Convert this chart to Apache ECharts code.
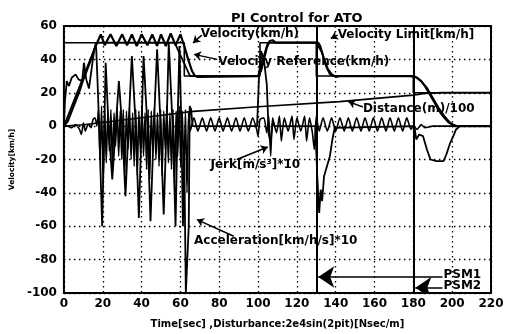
<!DOCTYPE html>
<html>
<head>
<meta charset="utf-8">
<script src="https://cdn.jsdelivr.net/npm/echarts@6/dist/echarts.min.js"></script>
<style>html,body{margin:0;padding:0;background:#fff}#c{width:514px;height:334px}</style>
</head>
<body>
<div id="c"></div>
<script>
// ---- tick values ----
var xTicks = {min: 0, max: 220, step: 20};
var yTicks = {min: -100, max: 60, step: 20};

// ---- series data [time s, value] ----
var velocityLimit = [[0,50],[62,50],[62,30],[101,30],[101,50],[130,50],[130,30],[180,30],[180,20],[220,20]];
var velocityRef = [[0,0],[17,50],[57,50],[65,30],[100,30],[105,50],[130,50],[131,49.5],[133,44],[135,36],[137,31],[139,30],[178,30],[181,29.5],[184,27],[187,23],[190,17],[193,11],[196,6],[199,2],[201,0.5],[203,0],[220,0]];
var velocity = [[0,0],[2,3],[4,9],[6,15],[8,21],[10,28],[12,34],[14,40],[16,47],[17.5,51],[19,55],[21,48.5],[24,55],[27,48],[30,55],[32.5,48.5],[35,55],[37.5,48],[40,55],[43,48.5],[45.5,55],[48,48],[50,55],[52.5,48],[55,55.5],[57.5,48.5],[60,55],[62,48],[64,40],[66,33],[67.5,30],[69,29.5],[100,30],[101.5,33],[103,40],[104.5,47],[106,51],[107.5,51.5],[109,50],[131,50],[132,48],[134,40],[136,34],[138,31],[140,29.5],[142,30],[180,30],[182,29],[184,27],[186,24],[188,20],[190,16],[192,12],[194,8],[196,5],[198,2.5],[200,1],[202,0],[220,0]];
var distance = [[0,0],[10,0.8],[20,2.2],[40,5],[60,7.9],[65,8.7],[100,11.6],[142,14.7],[180,18.6],[186,19.6],[195,20.1],[220,20.1]];
var acceleration = [[0,0],[0.5,15],[1.5,27],[2.6,24],[4,29],[6,31],[7.5,28],[9.4,27],[10.3,38],[11.5,28],[12.9,22.5],[14,32],[15.5,45],[16.5,50],[17.2,30],[18,5],[19.7,-60],[21.5,38],[23,0],[24.9,-32],[27,5],[28.3,27],[30,0],[31.7,-42],[33.5,5],[35,42],[37,0],[38.6,-55],[40,0],[41,42],[43,0],[44.6,-57],[46.5,5],[48,46],[49.8,0],[51.4,-53],[53,5],[54,50],[56,0],[57.5,-60],[58.5,0],[59.5,48],[60.5,0],[61.3,-60],[62,-20],[62.8,-100],[63.5,-100],[64.3,-60],[64.8,12],[65.5,10],[66.3,0],[99.5,0],[100.5,30],[101.5,45],[103,40],[104.5,25],[105.5,-5],[106.5,-10],[107.5,2],[108.5,0],[129.5,0],[130.5,-30],[131.5,-52],[132.3,-38],[133,-45],[134,-30],[135.5,-24],[137,-18],[138.3,-8],[139.5,-1],[140.5,0],[180.5,0],[181.5,-8],[183,-5],[185,-6],[187,-14],[188.8,-20],[192,-21],[195.5,-21],[197,-17],[199,-10],[200.6,-6],[202,-2],[204,0],[220,0]];
var jerk = [[0,0],[2,0],[4,-1],[6,1],[8,-2],[9,-5],[10,2],[11,-3],[12,0],[13,1],[14,-1],[15,4],[16,5],[17,0],[17.8,10],[18.6,-20],[19.4,12],[20.2,-35],[21,10],[21.8,-22],[22.6,8],[23.4,-15],[24.2,10],[25,-25],[25.8,8],[26.6,-12],[27.4,11],[28.2,-18],[29,9],[29.8,-20],[30.6,10],[31.4,-28],[32.2,9],[33,-14],[33.8,11],[34.6,-20],[35.4,8],[36.2,-24],[37,10],[37.8,-30],[38.6,9],[39.4,-16],[40.2,12],[41,-18],[41.8,8],[42.6,-26],[43.4,10],[44.2,-32],[45,9],[45.8,-15],[46.6,11],[47.4,-20],[48.2,8],[49,-24],[49.8,10],[50.6,-30],[51.4,9],[52.2,-14],[53,12],[53.8,-22],[54.6,8],[55.4,-26],[56.2,10],[57,-34],[57.8,9],[58.6,-18],[59.4,12],[60.2,-24],[61,9],[61.8,-30],[62.6,10],[63.4,-40],[64.2,8],[65,-3],[67,5],[69,-3],[71.3,5],[73.5,-3],[75.6,5],[77.8,-3],[80,5],[82,-3],[84.2,5],[86.4,-3],[88.6,5],[90.7,-3],[92.9,5],[95,-3],[97.2,5],[99.3,-2],[100,-6],[101,4],[103,5],[104.5,-4],[105.5,6],[106.5,-18],[107.5,5],[109.5,-4],[111,6],[112,-9],[113.5,5],[115.5,-3],[117.5,6],[118.5,-8],[120,5],[122,-3],[124,6],[125,-9],[126.5,5],[128,-4],[129,-14],[130,6],[131.5,-3],[133.5,5],[135.7,-3],[137.9,5],[140,-3],[142.2,5],[144.4,-3],[146.5,5],[148.6,-3],[150.8,5],[153,-3],[155.1,5],[157.3,-3],[159.4,5],[161.5,-3],[163.7,5],[165.9,-3],[168,5],[170.2,-3],[172.3,5],[174.5,-3],[176.6,5],[178.8,-2],[180,0],[182,-2],[184,1],[186,-1],[190,0],[220,0]];
var psmTimes = [130, 180];

// ---- annotations ----
var labelTexts = ['Velocity(km/h)','Velocity Limit[km/h]','Velocity Reference(km/h)','Distance(m)/100','Jerk[m/s\u00b3]*10','Acceleration[km/h/s]*10','PSM1','PSM2'];
var labelPos = [[70.5,55.5],[141,54.5],[79.5,38.5],[154,10.5],[75.5,-23],[67,-69],[195.5,-89],[195.5,-96]];
var arrowFrom = [[71,54.5],[141,54.5],[79,40],[154,11.5],[89,-20],[87.5,-66]];
var arrowTo = [[66.5,49.8],[137.5,52.5],[67,43],[146.5,14.7],[105,-12.5],[68.5,-56]];
var psmArrowFrom = [[195,-90.4],[195,-96.8]];
var psmArrowTo = [[131,-90.4],[181,-96.8]];

var FONT = 'DejaVu Sans';
function lineSeries(d, w, sm) {
  return {type:'line', data:d, showSymbol:false, symbol:'none', smooth: sm || false,
    lineStyle:{color:'#000', width:w}, z:3, clip:true};
}
var series = [
  lineSeries(velocityLimit, 1.6),
  lineSeries(velocityRef, 1.8),
  lineSeries(velocity, 2.2),
  lineSeries(distance, 1.6),
  lineSeries(acceleration, 1.8),
  lineSeries(jerk, 1.6, 0.2),
  {type:'lines', coordinateSystem:'cartesian2d', z:4,
    data: psmTimes.map(function(t){return {coords:[[t,yTicks.max],[t,yTicks.min]]};}),
    lineStyle:{color:'#000', width:2, opacity:1}, symbol:'none'},
  {type:'lines', coordinateSystem:'cartesian2d', z:5,
    data: arrowFrom.map(function(p,i){return {coords:[p, arrowTo[i]]};}),
    lineStyle:{color:'#000', width:1.5, opacity:1}, symbol:['none','arrow'], symbolSize:7},
  {type:'lines', coordinateSystem:'cartesian2d', z:5,
    data: psmArrowFrom.map(function(p,i){return {coords:[p, psmArrowTo[i]]};}),
    lineStyle:{color:'#000', width:1.5, opacity:1}, symbol:['none','arrow'], symbolSize:[7,16]},
  {type:'scatter', z:6, symbol:'circle', symbolSize:0, itemStyle:{color:'#000', opacity:1},
    data: labelPos.map(function(p,i){return {value:p, name:labelTexts[i]};}),
    label:{show:true, position:'right', distance:0, formatter:'{b}', color:'#000', opacity:1,
      fontFamily:FONT, fontWeight:'bold', fontSize:12}}
];

var chart = echarts.init(document.getElementById('c'), null, {renderer:'canvas'});
chart.setOption({
  animation:false,
  backgroundColor:'#fff',
  title:{text:'PI Control for ATO', left:226, top:7,
    textStyle:{fontFamily:FONT, fontWeight:'bold', fontSize:13, color:'#000'}},
  grid:{left:63, right:23, top:26, bottom:35, show:true, borderColor:'#000', borderWidth:2, backgroundColor:'#fff'},
  xAxis:{type:'value', min:xTicks.min, max:xTicks.max, interval:xTicks.step,
    name:'Time[sec] ,Disturbance:2e4sin(2pit)[Nsec/m]', nameLocation:'middle', nameGap:26,
    nameTextStyle:{fontFamily:FONT, fontWeight:'bold', fontSize:10, color:'#000'},
    axisLine:{show:false}, axisTick:{show:false},
    axisLabel:{fontFamily:FONT, fontWeight:'bold', fontSize:12, color:'#000', margin:5},
    splitLine:{show:true, lineStyle:{color:'#000', width:1.3, type:[1.5,3.5]}}},
  yAxis:{type:'value', min:yTicks.min, max:yTicks.max, interval:yTicks.step,
    name:'Velocity[km/h]', nameLocation:'middle', nameGap:40, nameRotate:90,
    nameTextStyle:{fontFamily:FONT, fontWeight:'bold', fontSize:7.5, color:'#000'},
    axisLine:{show:false}, axisTick:{show:false},
    axisLabel:{fontFamily:FONT, fontWeight:'bold', fontSize:12, color:'#000', margin:7},
    splitLine:{show:true, lineStyle:{color:'#000', width:1.3, type:[1.5,3.5]}}},
  series: series
});
</script>
</body>
</html>
